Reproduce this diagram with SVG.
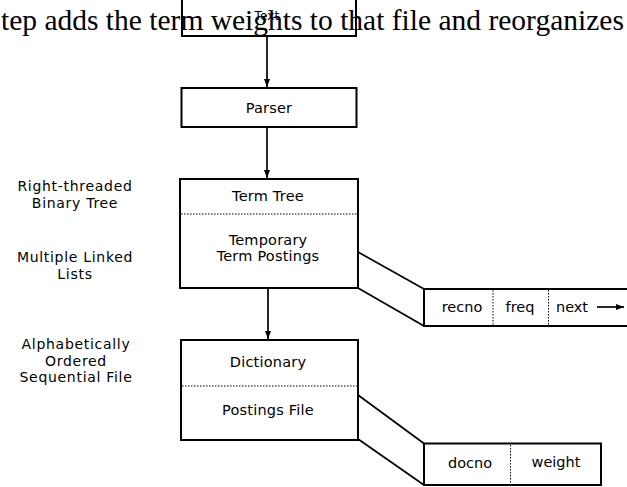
<svg xmlns="http://www.w3.org/2000/svg" width="627" height="487" viewBox="0 0 627 487">
<style>
.box{fill:none;stroke:#000;stroke-width:2}
.dot{stroke:#000;stroke-width:1;stroke-dasharray:1.5 1.5}
.ln{fill:none;stroke:#000;stroke-width:1.7}
.t{font-family:"DejaVu Sans",sans-serif;font-size:14.5px;letter-spacing:0.2px;fill:#000;text-anchor:middle}
.f{font-family:"DejaVu Sans",sans-serif;font-size:14.5px;fill:#000;text-anchor:middle}
.lab{font-family:"DejaVu Sans",sans-serif;font-size:14px;letter-spacing:0.7px;fill:#000;text-anchor:middle}
</style>
<defs>
<marker id="ah" viewBox="0 0 8 8" refX="8" refY="4" markerWidth="8" markerHeight="8" markerUnits="userSpaceOnUse" orient="auto">
<path d="M0,1 L8,4 L0,7 Z" fill="#000"/>
</marker>
</defs>
<rect width="627" height="487" fill="#fff"/>
<g id="text-node">
<text class="t" x="267" y="20" style="font-size:12px">Text</text>
</g>
<text x="1" y="30" font-family="'Liberation Serif',serif" font-size="29.5" fill="#000">tep adds the term weights to that file and reorganizes</text>
<g id="text-box">
<path class="box" d="M182,-2 V36 H356 V-2"/>
</g>
<g id="parser">
<rect class="box" x="181.5" y="88" width="175" height="39"/>
<text class="t" x="269" y="113">Parser</text>
</g>
<g id="term-tree">
<rect class="box" x="180" y="179" width="178" height="109"/>
<line class="dot" x1="181" y1="214" x2="357" y2="214"/>
<text class="t" x="268" y="201">Term Tree</text>
<text class="t" x="268" y="245">Temporary</text>
<text class="t" x="268" y="261">Term Postings</text>
</g>
<g id="dictionary">
<rect class="box" x="181" y="340" width="177" height="100"/>
<line class="dot" x1="182" y1="386" x2="357" y2="386"/>
<text class="t" x="268" y="367">Dictionary</text>
<text class="t" x="268" y="415">Postings File</text>
</g>
<g id="posting-record">
<path class="box" d="M628,289 H424 V326 H628"/>
<line class="dot" x1="493" y1="290" x2="493" y2="325"/>
<line class="dot" x1="548.5" y1="290" x2="548.5" y2="325"/>
<text class="f" x="462" y="312">recno</text>
<text class="f" x="520" y="312">freq</text>
<text class="f" x="572" y="312">next</text>
<line class="ln" x1="597" y1="307" x2="624" y2="307" marker-end="url(#ah)"/>
</g>
<g id="postings-file-record">
<rect class="box" x="424" y="443.5" width="177" height="41.5"/>
<line class="dot" x1="510.5" y1="445" x2="510.5" y2="484"/>
<text class="f" x="470" y="468">docno</text>
<text class="f" x="556" y="467">weight</text>
</g>
<g id="labels">
<text class="lab" x="75" y="191">Right-threaded</text>
<text class="lab" x="75" y="208">Binary Tree</text>
<text class="lab" x="75" y="262">Multiple Linked</text>
<text class="lab" x="75" y="279">Lists</text>
<text class="lab" x="76" y="349">Alphabetically</text>
<text class="lab" x="76" y="365.5">Ordered</text>
<text class="lab" x="76" y="382">Sequential File</text>
</g>
<g id="connectors">
<line class="ln" x1="267" y1="37" x2="267" y2="87" marker-end="url(#ah)"/>
<line class="ln" x1="267" y1="128" x2="267" y2="178" marker-end="url(#ah)"/>
<line class="ln" x1="268" y1="289" x2="268" y2="339" marker-end="url(#ah)"/>
<line class="ln" x1="358" y1="252" x2="424" y2="289"/>
<line class="ln" x1="358" y1="288" x2="424" y2="326"/>
<line class="ln" x1="358" y1="395" x2="424" y2="443.5"/>
<line class="ln" x1="358" y1="439" x2="424" y2="485"/>
</g>
</svg>
